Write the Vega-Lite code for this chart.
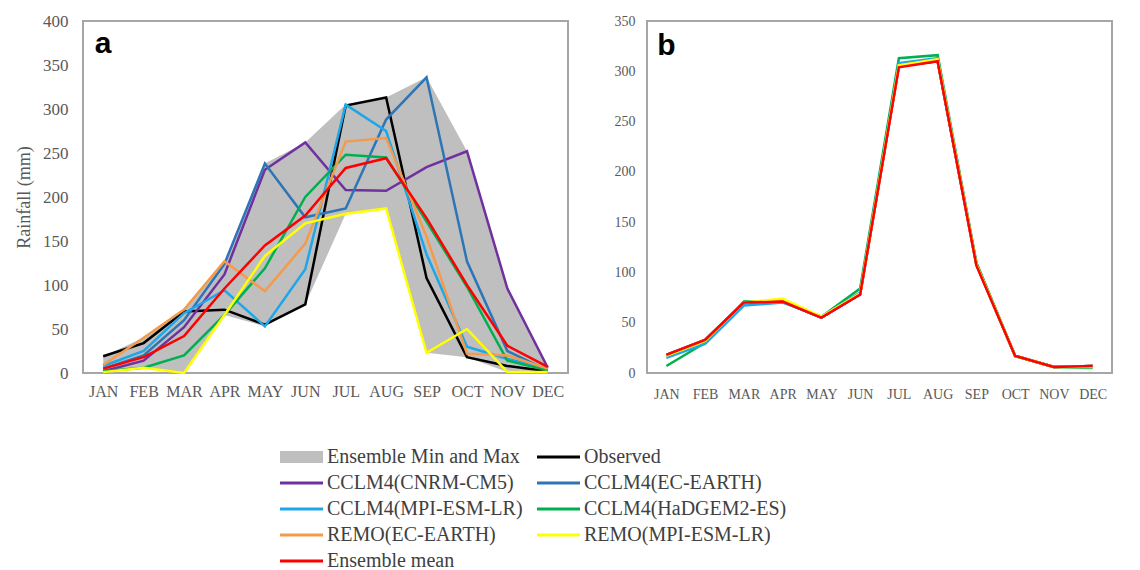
{
  "$schema": "https://vega.github.io/schema/vega-lite/v6.json",
  "background": "white",
  "padding": {"left": 14, "top": 11, "right": 5, "bottom": 5},
  "spacing": 44,
  "config": {
    "view": {"stroke": "#a6a6a6", "strokeWidth": 2},
    "axis": {"labelFont": "Liberation Serif", "labelColor": "#595959", "ticks": false, "tickSize": 0, "grid": false, "domain": false, "titleFont": "Liberation Serif", "titleColor": "#595959", "titleFontWeight": "normal"}
  },
  "datasets": {
    "a": [
      {"series": "Observed", "month": "JAN", "m": 1, "value": 19}, {"series": "Observed", "month": "FEB", "m": 2, "value": 34}, {"series": "Observed", "month": "MAR", "m": 3, "value": 70}, {"series": "Observed", "month": "APR", "m": 4, "value": 72}, {"series": "Observed", "month": "MAY", "m": 5, "value": 55}, {"series": "Observed", "month": "JUN", "m": 6, "value": 78}, {"series": "Observed", "month": "JUL", "m": 7, "value": 304}, {"series": "Observed", "month": "AUG", "m": 8, "value": 313}, {"series": "Observed", "month": "SEP", "m": 9, "value": 108}, {"series": "Observed", "month": "OCT", "m": 10, "value": 18}, {"series": "Observed", "month": "NOV", "m": 11, "value": 8}, {"series": "Observed", "month": "DEC", "m": 12, "value": 2},
      {"series": "CCLM4(CNRM-CM5)", "month": "JAN", "m": 1, "value": 2}, {"series": "CCLM4(CNRM-CM5)", "month": "FEB", "m": 2, "value": 14}, {"series": "CCLM4(CNRM-CM5)", "month": "MAR", "m": 3, "value": 52}, {"series": "CCLM4(CNRM-CM5)", "month": "APR", "m": 4, "value": 112}, {"series": "CCLM4(CNRM-CM5)", "month": "MAY", "m": 5, "value": 231}, {"series": "CCLM4(CNRM-CM5)", "month": "JUN", "m": 6, "value": 262}, {"series": "CCLM4(CNRM-CM5)", "month": "JUL", "m": 7, "value": 208}, {"series": "CCLM4(CNRM-CM5)", "month": "AUG", "m": 8, "value": 207}, {"series": "CCLM4(CNRM-CM5)", "month": "SEP", "m": 9, "value": 234}, {"series": "CCLM4(CNRM-CM5)", "month": "OCT", "m": 10, "value": 252}, {"series": "CCLM4(CNRM-CM5)", "month": "NOV", "m": 11, "value": 96}, {"series": "CCLM4(CNRM-CM5)", "month": "DEC", "m": 12, "value": 6},
      {"series": "CCLM4(EC-EARTH)", "month": "JAN", "m": 1, "value": 5}, {"series": "CCLM4(EC-EARTH)", "month": "FEB", "m": 2, "value": 20}, {"series": "CCLM4(EC-EARTH)", "month": "MAR", "m": 3, "value": 60}, {"series": "CCLM4(EC-EARTH)", "month": "APR", "m": 4, "value": 124}, {"series": "CCLM4(EC-EARTH)", "month": "MAY", "m": 5, "value": 238}, {"series": "CCLM4(EC-EARTH)", "month": "JUN", "m": 6, "value": 177}, {"series": "CCLM4(EC-EARTH)", "month": "JUL", "m": 7, "value": 187}, {"series": "CCLM4(EC-EARTH)", "month": "AUG", "m": 8, "value": 288}, {"series": "CCLM4(EC-EARTH)", "month": "SEP", "m": 9, "value": 336}, {"series": "CCLM4(EC-EARTH)", "month": "OCT", "m": 10, "value": 127}, {"series": "CCLM4(EC-EARTH)", "month": "NOV", "m": 11, "value": 25}, {"series": "CCLM4(EC-EARTH)", "month": "DEC", "m": 12, "value": 3},
      {"series": "CCLM4(MPI-ESM-LR)", "month": "JAN", "m": 1, "value": 8}, {"series": "CCLM4(MPI-ESM-LR)", "month": "FEB", "m": 2, "value": 25}, {"series": "CCLM4(MPI-ESM-LR)", "month": "MAR", "m": 3, "value": 68}, {"series": "CCLM4(MPI-ESM-LR)", "month": "APR", "m": 4, "value": 94}, {"series": "CCLM4(MPI-ESM-LR)", "month": "MAY", "m": 5, "value": 53}, {"series": "CCLM4(MPI-ESM-LR)", "month": "JUN", "m": 6, "value": 118}, {"series": "CCLM4(MPI-ESM-LR)", "month": "JUL", "m": 7, "value": 305}, {"series": "CCLM4(MPI-ESM-LR)", "month": "AUG", "m": 8, "value": 275}, {"series": "CCLM4(MPI-ESM-LR)", "month": "SEP", "m": 9, "value": 135}, {"series": "CCLM4(MPI-ESM-LR)", "month": "OCT", "m": 10, "value": 30}, {"series": "CCLM4(MPI-ESM-LR)", "month": "NOV", "m": 11, "value": 16}, {"series": "CCLM4(MPI-ESM-LR)", "month": "DEC", "m": 12, "value": 5},
      {"series": "CCLM4(HaDGEM2-ES)", "month": "JAN", "m": 1, "value": 2}, {"series": "CCLM4(HaDGEM2-ES)", "month": "FEB", "m": 2, "value": 6}, {"series": "CCLM4(HaDGEM2-ES)", "month": "MAR", "m": 3, "value": 20}, {"series": "CCLM4(HaDGEM2-ES)", "month": "APR", "m": 4, "value": 66}, {"series": "CCLM4(HaDGEM2-ES)", "month": "MAY", "m": 5, "value": 119}, {"series": "CCLM4(HaDGEM2-ES)", "month": "JUN", "m": 6, "value": 200}, {"series": "CCLM4(HaDGEM2-ES)", "month": "JUL", "m": 7, "value": 248}, {"series": "CCLM4(HaDGEM2-ES)", "month": "AUG", "m": 8, "value": 245}, {"series": "CCLM4(HaDGEM2-ES)", "month": "SEP", "m": 9, "value": 172}, {"series": "CCLM4(HaDGEM2-ES)", "month": "OCT", "m": 10, "value": 98}, {"series": "CCLM4(HaDGEM2-ES)", "month": "NOV", "m": 11, "value": 14}, {"series": "CCLM4(HaDGEM2-ES)", "month": "DEC", "m": 12, "value": 3},
      {"series": "REMO(EC-EARTH)", "month": "JAN", "m": 1, "value": 9}, {"series": "REMO(EC-EARTH)", "month": "FEB", "m": 2, "value": 40}, {"series": "REMO(EC-EARTH)", "month": "MAR", "m": 3, "value": 72}, {"series": "REMO(EC-EARTH)", "month": "APR", "m": 4, "value": 127}, {"series": "REMO(EC-EARTH)", "month": "MAY", "m": 5, "value": 93}, {"series": "REMO(EC-EARTH)", "month": "JUN", "m": 6, "value": 147}, {"series": "REMO(EC-EARTH)", "month": "JUL", "m": 7, "value": 263}, {"series": "REMO(EC-EARTH)", "month": "AUG", "m": 8, "value": 267}, {"series": "REMO(EC-EARTH)", "month": "SEP", "m": 9, "value": 155}, {"series": "REMO(EC-EARTH)", "month": "OCT", "m": 10, "value": 22}, {"series": "REMO(EC-EARTH)", "month": "NOV", "m": 11, "value": 20}, {"series": "REMO(EC-EARTH)", "month": "DEC", "m": 12, "value": 5},
      {"series": "REMO(MPI-ESM-LR)", "month": "JAN", "m": 1, "value": 1}, {"series": "REMO(MPI-ESM-LR)", "month": "FEB", "m": 2, "value": 6}, {"series": "REMO(MPI-ESM-LR)", "month": "MAR", "m": 3, "value": 0}, {"series": "REMO(MPI-ESM-LR)", "month": "APR", "m": 4, "value": 66}, {"series": "REMO(MPI-ESM-LR)", "month": "MAY", "m": 5, "value": 133}, {"series": "REMO(MPI-ESM-LR)", "month": "JUN", "m": 6, "value": 170}, {"series": "REMO(MPI-ESM-LR)", "month": "JUL", "m": 7, "value": 181}, {"series": "REMO(MPI-ESM-LR)", "month": "AUG", "m": 8, "value": 187}, {"series": "REMO(MPI-ESM-LR)", "month": "SEP", "m": 9, "value": 23}, {"series": "REMO(MPI-ESM-LR)", "month": "OCT", "m": 10, "value": 50}, {"series": "REMO(MPI-ESM-LR)", "month": "NOV", "m": 11, "value": 1}, {"series": "REMO(MPI-ESM-LR)", "month": "DEC", "m": 12, "value": 1},
      {"series": "Ensemble mean", "month": "JAN", "m": 1, "value": 5}, {"series": "Ensemble mean", "month": "FEB", "m": 2, "value": 18}, {"series": "Ensemble mean", "month": "MAR", "m": 3, "value": 42}, {"series": "Ensemble mean", "month": "APR", "m": 4, "value": 96}, {"series": "Ensemble mean", "month": "MAY", "m": 5, "value": 145}, {"series": "Ensemble mean", "month": "JUN", "m": 6, "value": 179}, {"series": "Ensemble mean", "month": "JUL", "m": 7, "value": 233}, {"series": "Ensemble mean", "month": "AUG", "m": 8, "value": 244}, {"series": "Ensemble mean", "month": "SEP", "m": 9, "value": 176}, {"series": "Ensemble mean", "month": "OCT", "m": 10, "value": 100}, {"series": "Ensemble mean", "month": "NOV", "m": 11, "value": 31}, {"series": "Ensemble mean", "month": "DEC", "m": 12, "value": 7}
    ],
    "b": [
      {"series": "Observed", "month": "JAN", "m": 1, "value": 18}, {"series": "Observed", "month": "FEB", "m": 2, "value": 33}, {"series": "Observed", "month": "MAR", "m": 3, "value": 70}, {"series": "Observed", "month": "APR", "m": 4, "value": 71}, {"series": "Observed", "month": "MAY", "m": 5, "value": 55}, {"series": "Observed", "month": "JUN", "m": 6, "value": 78}, {"series": "Observed", "month": "JUL", "m": 7, "value": 305}, {"series": "Observed", "month": "AUG", "m": 8, "value": 310}, {"series": "Observed", "month": "SEP", "m": 9, "value": 108}, {"series": "Observed", "month": "OCT", "m": 10, "value": 17}, {"series": "Observed", "month": "NOV", "m": 11, "value": 6}, {"series": "Observed", "month": "DEC", "m": 12, "value": 7},
      {"series": "CCLM4(CNRM-CM5)", "month": "JAN", "m": 1, "value": 18}, {"series": "CCLM4(CNRM-CM5)", "month": "FEB", "m": 2, "value": 33}, {"series": "CCLM4(CNRM-CM5)", "month": "MAR", "m": 3, "value": 70}, {"series": "CCLM4(CNRM-CM5)", "month": "APR", "m": 4, "value": 71}, {"series": "CCLM4(CNRM-CM5)", "month": "MAY", "m": 5, "value": 55}, {"series": "CCLM4(CNRM-CM5)", "month": "JUN", "m": 6, "value": 79}, {"series": "CCLM4(CNRM-CM5)", "month": "JUL", "m": 7, "value": 306}, {"series": "CCLM4(CNRM-CM5)", "month": "AUG", "m": 8, "value": 311}, {"series": "CCLM4(CNRM-CM5)", "month": "SEP", "m": 9, "value": 108}, {"series": "CCLM4(CNRM-CM5)", "month": "OCT", "m": 10, "value": 17}, {"series": "CCLM4(CNRM-CM5)", "month": "NOV", "m": 11, "value": 6}, {"series": "CCLM4(CNRM-CM5)", "month": "DEC", "m": 12, "value": 7},
      {"series": "CCLM4(EC-EARTH)", "month": "JAN", "m": 1, "value": 17}, {"series": "CCLM4(EC-EARTH)", "month": "FEB", "m": 2, "value": 32}, {"series": "CCLM4(EC-EARTH)", "month": "MAR", "m": 3, "value": 69}, {"series": "CCLM4(EC-EARTH)", "month": "APR", "m": 4, "value": 71}, {"series": "CCLM4(EC-EARTH)", "month": "MAY", "m": 5, "value": 55}, {"series": "CCLM4(EC-EARTH)", "month": "JUN", "m": 6, "value": 79}, {"series": "CCLM4(EC-EARTH)", "month": "JUL", "m": 7, "value": 306}, {"series": "CCLM4(EC-EARTH)", "month": "AUG", "m": 8, "value": 311}, {"series": "CCLM4(EC-EARTH)", "month": "SEP", "m": 9, "value": 109}, {"series": "CCLM4(EC-EARTH)", "month": "OCT", "m": 10, "value": 17}, {"series": "CCLM4(EC-EARTH)", "month": "NOV", "m": 11, "value": 6}, {"series": "CCLM4(EC-EARTH)", "month": "DEC", "m": 12, "value": 7},
      {"series": "CCLM4(HaDGEM2-ES)", "month": "JAN", "m": 1, "value": 7}, {"series": "CCLM4(HaDGEM2-ES)", "month": "FEB", "m": 2, "value": 30}, {"series": "CCLM4(HaDGEM2-ES)", "month": "MAR", "m": 3, "value": 71}, {"series": "CCLM4(HaDGEM2-ES)", "month": "APR", "m": 4, "value": 71}, {"series": "CCLM4(HaDGEM2-ES)", "month": "MAY", "m": 5, "value": 56}, {"series": "CCLM4(HaDGEM2-ES)", "month": "JUN", "m": 6, "value": 84}, {"series": "CCLM4(HaDGEM2-ES)", "month": "JUL", "m": 7, "value": 313}, {"series": "CCLM4(HaDGEM2-ES)", "month": "AUG", "m": 8, "value": 316}, {"series": "CCLM4(HaDGEM2-ES)", "month": "SEP", "m": 9, "value": 110}, {"series": "CCLM4(HaDGEM2-ES)", "month": "OCT", "m": 10, "value": 17}, {"series": "CCLM4(HaDGEM2-ES)", "month": "NOV", "m": 11, "value": 6}, {"series": "CCLM4(HaDGEM2-ES)", "month": "DEC", "m": 12, "value": 5},
      {"series": "CCLM4(MPI-ESM-LR)", "month": "JAN", "m": 1, "value": 15}, {"series": "CCLM4(MPI-ESM-LR)", "month": "FEB", "m": 2, "value": 29}, {"series": "CCLM4(MPI-ESM-LR)", "month": "MAR", "m": 3, "value": 67}, {"series": "CCLM4(MPI-ESM-LR)", "month": "APR", "m": 4, "value": 70}, {"series": "CCLM4(MPI-ESM-LR)", "month": "MAY", "m": 5, "value": 56}, {"series": "CCLM4(MPI-ESM-LR)", "month": "JUN", "m": 6, "value": 80}, {"series": "CCLM4(MPI-ESM-LR)", "month": "JUL", "m": 7, "value": 308}, {"series": "CCLM4(MPI-ESM-LR)", "month": "AUG", "m": 8, "value": 313}, {"series": "CCLM4(MPI-ESM-LR)", "month": "SEP", "m": 9, "value": 108}, {"series": "CCLM4(MPI-ESM-LR)", "month": "OCT", "m": 10, "value": 17}, {"series": "CCLM4(MPI-ESM-LR)", "month": "NOV", "m": 11, "value": 6}, {"series": "CCLM4(MPI-ESM-LR)", "month": "DEC", "m": 12, "value": 6},
      {"series": "REMO(EC-EARTH)", "month": "JAN", "m": 1, "value": 18}, {"series": "REMO(EC-EARTH)", "month": "FEB", "m": 2, "value": 33}, {"series": "REMO(EC-EARTH)", "month": "MAR", "m": 3, "value": 70}, {"series": "REMO(EC-EARTH)", "month": "APR", "m": 4, "value": 72}, {"series": "REMO(EC-EARTH)", "month": "MAY", "m": 5, "value": 55}, {"series": "REMO(EC-EARTH)", "month": "JUN", "m": 6, "value": 79}, {"series": "REMO(EC-EARTH)", "month": "JUL", "m": 7, "value": 306}, {"series": "REMO(EC-EARTH)", "month": "AUG", "m": 8, "value": 311}, {"series": "REMO(EC-EARTH)", "month": "SEP", "m": 9, "value": 108}, {"series": "REMO(EC-EARTH)", "month": "OCT", "m": 10, "value": 17}, {"series": "REMO(EC-EARTH)", "month": "NOV", "m": 11, "value": 6}, {"series": "REMO(EC-EARTH)", "month": "DEC", "m": 12, "value": 7},
      {"series": "REMO(MPI-ESM-LR)", "month": "JAN", "m": 1, "value": 17}, {"series": "REMO(MPI-ESM-LR)", "month": "FEB", "m": 2, "value": 32}, {"series": "REMO(MPI-ESM-LR)", "month": "MAR", "m": 3, "value": 70}, {"series": "REMO(MPI-ESM-LR)", "month": "APR", "m": 4, "value": 74}, {"series": "REMO(MPI-ESM-LR)", "month": "MAY", "m": 5, "value": 56}, {"series": "REMO(MPI-ESM-LR)", "month": "JUN", "m": 6, "value": 79}, {"series": "REMO(MPI-ESM-LR)", "month": "JUL", "m": 7, "value": 306}, {"series": "REMO(MPI-ESM-LR)", "month": "AUG", "m": 8, "value": 312}, {"series": "REMO(MPI-ESM-LR)", "month": "SEP", "m": 9, "value": 108}, {"series": "REMO(MPI-ESM-LR)", "month": "OCT", "m": 10, "value": 17}, {"series": "REMO(MPI-ESM-LR)", "month": "NOV", "m": 11, "value": 6}, {"series": "REMO(MPI-ESM-LR)", "month": "DEC", "m": 12, "value": 6},
      {"series": "Ensemble mean", "month": "JAN", "m": 1, "value": 18}, {"series": "Ensemble mean", "month": "FEB", "m": 2, "value": 33}, {"series": "Ensemble mean", "month": "MAR", "m": 3, "value": 70}, {"series": "Ensemble mean", "month": "APR", "m": 4, "value": 71}, {"series": "Ensemble mean", "month": "MAY", "m": 5, "value": 55}, {"series": "Ensemble mean", "month": "JUN", "m": 6, "value": 78}, {"series": "Ensemble mean", "month": "JUL", "m": 7, "value": 304}, {"series": "Ensemble mean", "month": "AUG", "m": 8, "value": 310}, {"series": "Ensemble mean", "month": "SEP", "m": 9, "value": 107}, {"series": "Ensemble mean", "month": "OCT", "m": 10, "value": 17}, {"series": "Ensemble mean", "month": "NOV", "m": 11, "value": 6}, {"series": "Ensemble mean", "month": "DEC", "m": 12, "value": 7}
    ]
  },
  "hconcat": [
    {
      "width": 485,
      "height": 352,
      "layer": [
        {
          "data": {"name": "a"},
          "transform": [{"aggregate": [{"op": "min", "field": "value", "as": "lo"}, {"op": "max", "field": "value", "as": "hi"}], "groupby": ["month", "m"]}],
          "mark": {"type": "area", "color": "#bfbfbf", "opacity": 1},
          "encoding": {
            "x": {"field": "month", "type": "ordinal", "sort": ["JAN","FEB","MAR","APR","MAY","JUN","JUL","AUG","SEP","OCT","NOV","DEC"], "scale": {"type": "point", "padding": 0.5}, "axis": {"title": null, "labelAngle": 0, "labelFontSize": 16, "labelPadding": 10}},
            "y": {"field": "lo", "type": "quantitative", "scale": {"domain": [0, 400]}, "axis": {"title": "Rainfall (mm)", "values": [0,50,100,150,200,250,300,350,400], "labelFontSize": 17, "labelPadding": 15, "titleFontSize": 18, "titlePadding": 9}},
            "y2": {"field": "hi"}
          }
        },
        {
          "data": {"name": "a"},
          "mark": {"type": "line", "strokeWidth": 2.5},
          "encoding": {
            "x": {"field": "month", "type": "ordinal", "sort": ["JAN","FEB","MAR","APR","MAY","JUN","JUL","AUG","SEP","OCT","NOV","DEC"]},
            "y": {"field": "value", "type": "quantitative"},
            "order": {"field": "m"},
            "color": {
              "field": "series",
              "type": "nominal",
              "scale": {
                "domain": ["Ensemble Min and Max", "Observed", "CCLM4(CNRM-CM5)", "CCLM4(EC-EARTH)", "CCLM4(MPI-ESM-LR)", "CCLM4(HaDGEM2-ES)", "REMO(EC-EARTH)", "REMO(MPI-ESM-LR)", "Ensemble mean"],
                "range": ["#bfbfbf", "#000000", "#7030a0", "#2e75b6", "#1ea7e8", "#00b050", "#f59a4a", "#ffff00", "#ff0000"]
              },
              "legend": {
                "orient": "none", "legendX": 192, "legendY": 426, "columns": 2, "direction": "horizontal", "title": null,
                "symbolSize": 100, "symbolStrokeWidth": 0,
                "labelFont": "Liberation Serif", "labelFontSize": 20, "labelColor": "#404040", "labelLimit": 400,
                "columnPadding": 9, "rowPadding": 6, "labelOffset": 32,
                "encode": {"symbols": {"update": {
                  "shape": {"signal": "datum.value === 'Ensemble Min and Max' ? 'M-1,-1.2H7.6V1.2H-1Z' : 'M-1,-0.3H7.6V0.3H-1Z'"},
                  "fill": {"scale": "color", "field": "value"},
                  "fillOpacity": {"value": 1},
                  "strokeWidth": {"value": 0}
                }}}
              }
            }
          }
        },
        {
          "data": {"values": [{"label": "a", "month": "JAN", "v": 364}]},
          "mark": {"type": "text", "font": "Liberation Sans", "fontWeight": "bold", "fontSize": 30, "align": "center", "baseline": "alphabetic", "color": "black"},
          "encoding": {"x": {"field": "month", "type": "ordinal", "sort": ["JAN","FEB","MAR","APR","MAY","JUN","JUL","AUG","SEP","OCT","NOV","DEC"]}, "y": {"field": "v", "type": "quantitative"}, "text": {"field": "label"}}
        }
      ]
    },
    {
      "width": 465,
      "height": 352,
      "layer": [
        {
          "data": {"name": "b"},
          "mark": {"type": "line", "strokeWidth": 2.5},
          "encoding": {
            "x": {"field": "month", "type": "ordinal", "sort": ["JAN","FEB","MAR","APR","MAY","JUN","JUL","AUG","SEP","OCT","NOV","DEC"], "scale": {"type": "point", "padding": 0.5}, "axis": {"title": null, "labelAngle": 0, "labelFontSize": 14, "labelPadding": 14}},
            "y": {"field": "value", "type": "quantitative", "scale": {"domain": [0, 350]}, "axis": {"title": null, "values": [0,50,100,150,200,250,300,350], "labelFontSize": 14, "labelPadding": 12}},
            "order": {"field": "m"},
            "color": {"field": "series", "type": "nominal"}
          }
        },
        {
          "data": {"values": [{"label": "b", "month": "JAN", "v": 316}]},
          "mark": {"type": "text", "font": "Liberation Sans", "fontWeight": "bold", "fontSize": 30, "align": "center", "baseline": "alphabetic", "color": "black"},
          "encoding": {"x": {"field": "month", "type": "ordinal", "sort": ["JAN","FEB","MAR","APR","MAY","JUN","JUL","AUG","SEP","OCT","NOV","DEC"]}, "y": {"field": "v", "type": "quantitative"}, "text": {"field": "label"}}
        }
      ]
    }
  ]
}
